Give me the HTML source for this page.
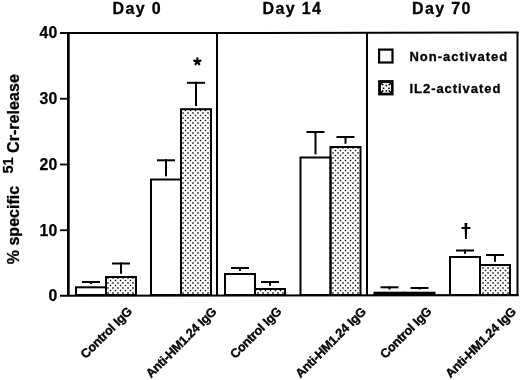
<!DOCTYPE html>
<html><head><meta charset="utf-8"><style>
html,body{margin:0;padding:0;background:#fff;width:520px;height:380px;overflow:hidden}
svg{display:block;font-family:"Liberation Sans", sans-serif;filter:grayscale(1)}
</style></head><body>
<svg width="520" height="380" viewBox="0 0 520 380">
<defs>
<pattern id="dots" x="-1" y="-1" width="5" height="5" patternUnits="userSpaceOnUse">
<rect x="0.8" y="0.8" width="1.4" height="1.4" fill="#000"/>
<rect x="3" y="3" width="2" height="2" fill="#777"/>
</pattern>
</defs>
<rect width="520" height="380" fill="#fff"/>
<rect x="76" y="287.3" width="30" height="7.7" fill="#fff" stroke="#000" stroke-width="2"/>
<rect x="106" y="277" width="30" height="18" fill="url(#dots)" stroke="#000" stroke-width="2"/>
<rect x="151" y="179.5" width="30" height="115.5" fill="#fff" stroke="#000" stroke-width="2"/>
<rect x="181" y="109.2" width="30" height="185.8" fill="url(#dots)" stroke="#000" stroke-width="2"/>
<rect x="225" y="274" width="30" height="21" fill="#fff" stroke="#000" stroke-width="2"/>
<rect x="255" y="289" width="30" height="6" fill="url(#dots)" stroke="#000" stroke-width="2"/>
<rect x="300.5" y="157.5" width="30" height="137.5" fill="#fff" stroke="#000" stroke-width="2"/>
<rect x="330.5" y="147" width="30" height="148" fill="url(#dots)" stroke="#000" stroke-width="2"/>
<rect x="374.5" y="292.7" width="30" height="2.3" fill="#000" stroke="#000" stroke-width="2"/>
<rect x="404.5" y="292.7" width="30" height="2.3" fill="#000" stroke="#000" stroke-width="2"/>
<rect x="450" y="257" width="30" height="38" fill="#fff" stroke="#000" stroke-width="2"/>
<rect x="480" y="265" width="30" height="30" fill="url(#dots)" stroke="#000" stroke-width="2"/>
<rect x="82.0" y="281" width="18" height="2" fill="#000"/>
<rect x="90.0" y="281" width="2" height="3.1" fill="#000"/>
<rect x="112.0" y="262.5" width="18" height="2" fill="#000"/>
<rect x="120.0" y="262.5" width="2" height="11.3" fill="#000"/>
<rect x="157.0" y="159.3" width="18" height="2" fill="#000"/>
<rect x="165.0" y="159.3" width="2" height="17.0" fill="#000"/>
<rect x="187.0" y="81.8" width="18" height="2" fill="#000"/>
<rect x="195.0" y="81.8" width="2" height="24.2" fill="#000"/>
<rect x="231.0" y="267" width="18" height="2" fill="#000"/>
<rect x="239.0" y="267" width="2" height="3.8" fill="#000"/>
<rect x="261.0" y="281" width="18" height="2" fill="#000"/>
<rect x="269.0" y="281" width="2" height="4.8" fill="#000"/>
<rect x="306.5" y="131" width="18" height="2" fill="#000"/>
<rect x="314.5" y="131" width="2" height="23.3" fill="#000"/>
<rect x="336.5" y="136" width="18" height="2" fill="#000"/>
<rect x="344.5" y="136" width="2" height="7.8" fill="#000"/>
<rect x="380.5" y="286.3" width="18" height="2" fill="#000"/>
<rect x="388.5" y="286.3" width="2" height="3.2" fill="#000"/>
<rect x="410.5" y="287" width="18" height="2" fill="#000"/>
<rect x="418.5" y="287" width="2" height="2.5" fill="#000"/>
<rect x="456.0" y="249.5" width="18" height="2" fill="#000"/>
<rect x="464.0" y="249.5" width="2" height="4.3" fill="#000"/>
<rect x="486.0" y="254" width="18" height="2" fill="#000"/>
<rect x="494.0" y="254" width="2" height="7.8" fill="#000"/>
<rect x="67" y="32" width="2.7" height="264" fill="#000"/>
<path d="M60,32.1L518.5,31.6L518.5,33.6L60,34.1Z" fill="#000"/>
<path d="M60,294.7L518.5,294.1L518.5,296.2L60,296.8Z" fill="#000"/>
<rect x="516.5" y="32" width="2" height="264" fill="#000"/>
<rect x="216" y="32" width="2" height="264" fill="#000"/>
<rect x="366" y="32" width="2" height="264" fill="#000"/>
<rect x="60" y="97.85" width="8" height="1.8" fill="#000"/>
<rect x="60" y="163.6" width="8" height="1.8" fill="#000"/>
<rect x="60" y="229.35" width="8" height="1.8" fill="#000"/>
<text x="57.2" y="38.3" text-anchor="end" font-size="15.8" font-weight="bold" stroke="#000" stroke-width="0.25">40</text>
<text x="57.2" y="104.05" text-anchor="end" font-size="15.8" font-weight="bold" stroke="#000" stroke-width="0.25">30</text>
<text x="57.2" y="169.8" text-anchor="end" font-size="15.8" font-weight="bold" stroke="#000" stroke-width="0.25">20</text>
<text x="57.2" y="235.55" text-anchor="end" font-size="15.8" font-weight="bold" stroke="#000" stroke-width="0.25">10</text>
<text x="57.2" y="300.8" text-anchor="end" font-size="15.8" font-weight="bold" stroke="#000" stroke-width="0.25">0</text>
<text x="112.5" y="13.8" font-size="16" font-weight="bold" letter-spacing="1.35" stroke="#000" stroke-width="0.3">Day 0</text>
<text x="262.5" y="13.8" font-size="16" font-weight="bold" letter-spacing="1.35" stroke="#000" stroke-width="0.3">Day 14</text>
<text x="412" y="13.8" font-size="16" font-weight="bold" letter-spacing="1.35" stroke="#000" stroke-width="0.3">Day 70</text>
<rect x="379.1" y="49.6" width="13.4" height="12.9" fill="#fff" stroke="#000" stroke-width="2.2"/>
<rect x="378.1" y="80.1" width="15.5" height="15.3" fill="#000"/>
<rect x="381" y="83" width="10" height="9.7" fill="#fff"/>
<rect x="385.5" y="84.8" width="1.6" height="1.6" fill="#000"/>
<rect x="382.8" y="87.5" width="1.6" height="1.6" fill="#000"/>
<rect x="388.1" y="87.5" width="1.6" height="1.6" fill="#000"/>
<rect x="385.5" y="90.0" width="1.6" height="1.6" fill="#000"/>
<path d="M381,83L383.3,85.3M391,83L388.7,85.3M381,92.7L383.3,90.4M391,92.7L388.7,90.4" stroke="#000" stroke-width="1.5"/>
<text x="409.5" y="61.2" font-size="13" font-weight="bold" letter-spacing="0.98" stroke="#000" stroke-width="0.3">Non-activated</text>
<text x="409.5" y="93.1" font-size="13" font-weight="bold" letter-spacing="0.95" stroke="#000" stroke-width="0.3">IL2-activated</text>
<path d="M197.40,61.60L197.40,58.40M197.40,61.60L200.44,60.61M197.40,61.60L199.28,64.19M197.40,61.60L195.52,64.19M197.40,61.60L194.36,60.61" stroke="#000" stroke-width="2.3" stroke-linecap="round" fill="none"/>
<path d="M464.5,223 L467.3,223 L466.8,239 L465,239 Z" fill="#000"/>
<rect x="461.5" y="227" width="9" height="1.9" fill="#000"/>
<text transform="translate(18.9,264.2) rotate(-90)" font-size="16" font-weight="bold" stroke="#000" stroke-width="0.3">% specific</text>
<text transform="translate(13.3,173.6) rotate(-90)" font-size="14.5" font-weight="bold" stroke="#000" stroke-width="0.25">51</text>
<text transform="translate(18.9,152.9) rotate(-90)" font-size="16.1" font-weight="bold" stroke="#000" stroke-width="0.3">Cr-release</text>
<text transform="translate(132.7,312.3) rotate(-45)" font-size="12.6" font-weight="bold" letter-spacing="-0.25" text-anchor="end" stroke="#000" stroke-width="0.35">Control IgG</text>
<text transform="translate(217.2,312.4) rotate(-45)" font-size="12.6" font-weight="bold" letter-spacing="-0.25" text-anchor="end" stroke="#000" stroke-width="0.35">Anti-HM1.24 IgG</text>
<text transform="translate(282.2,312.3) rotate(-45)" font-size="12.6" font-weight="bold" letter-spacing="-0.25" text-anchor="end" stroke="#000" stroke-width="0.35">Control IgG</text>
<text transform="translate(366.7,312.4) rotate(-45)" font-size="12.6" font-weight="bold" letter-spacing="-0.25" text-anchor="end" stroke="#000" stroke-width="0.35">Anti-HM1.24 IgG</text>
<text transform="translate(432.2,312.3) rotate(-45)" font-size="12.6" font-weight="bold" letter-spacing="-0.25" text-anchor="end" stroke="#000" stroke-width="0.35">Control IgG</text>
<text transform="translate(516.7,312.4) rotate(-45)" font-size="12.6" font-weight="bold" letter-spacing="-0.25" text-anchor="end" stroke="#000" stroke-width="0.35">Anti-HM1.24 IgG</text>
</svg>
</body></html>
